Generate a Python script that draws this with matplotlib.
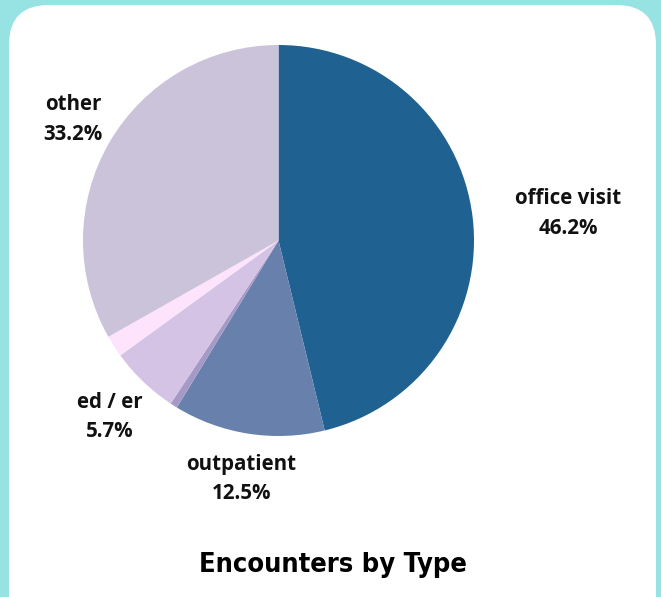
import matplotlib
matplotlib.use("Agg")
import matplotlib.pyplot as plt
from matplotlib.patches import FancyBboxPatch
import numpy as np

# Data (clockwise from 12 o'clock)
categories = ["office visit", "outpatient", "inpatient", "ed / er", "urgent care", "other"]
values = [46.2, 12.5, 0.6, 5.7, 1.8, 33.2]
show_label = [True, True, False, True, False, True]
colors = ["#1f6190", "#6880ac", "#a59ac6", "#d5c3e5", "#fde4fc", "#cbc3da"]
label_dist = [1.49, 1.235, 1.2, 1.25, 1.22, 1.22]
label_angle_shift = [-1.5, 0.0, 0.0, 0.0, 0.0, -0.3]

W, H = 661, 597
fig = plt.figure(figsize=(W / 100, H / 100), dpi=100)
fig.patch.set_facecolor("#97e3e3")

# white rounded card
card = FancyBboxPatch((9 / W, -40 / H), (656 - 9) / W, (597 - 5 + 40) / H,
                      boxstyle="round,pad=0,rounding_size=0.06",
                      transform=fig.transFigure, facecolor="white",
                      edgecolor="none", mutation_aspect=W / H, zorder=-10)
fig.patches.append(card)

cx, cy, R = 278.5, 240.5, 195.5
ax = fig.add_axes([(cx - R) / W, (H - cy - R) / H, 2 * R / W, 2 * R / H])
ax.set_zorder(5)

wedges, _ = ax.pie(values, colors=colors, startangle=90, counterclock=False,
                   radius=1, wedgeprops=dict(linewidth=0))
ax.set_xlim(-1, 1)
ax.set_ylim(-1, 1)
ax.set_aspect("equal")
ax.axis("off")

font = ["Open Sans", "DejaVu Sans"]
for w, cat, v, show, d, sh in zip(wedges, categories, values, show_label,
                                  label_dist, label_angle_shift):
    if not show:
        continue
    ang = np.deg2rad((w.theta1 + w.theta2) / 2 + sh)
    ax.text(d * np.cos(ang), d * np.sin(ang), f"{cat}\n{v:.1f}%",
            ha="center", va="center", fontsize=14.8, fontweight="bold",
            family=font, linespacing=1.53, color="#111111", clip_on=False)

fig.text(332.5 / W, 1 - 565 / H, "Encounters by Type", ha="center", va="center",
         fontsize=19.5, fontweight="bold", fontstretch="condensed",
         family=["DejaVu Sans"], color="black", zorder=6)

fig.savefig("out.png", dpi=100, facecolor=fig.get_facecolor())
